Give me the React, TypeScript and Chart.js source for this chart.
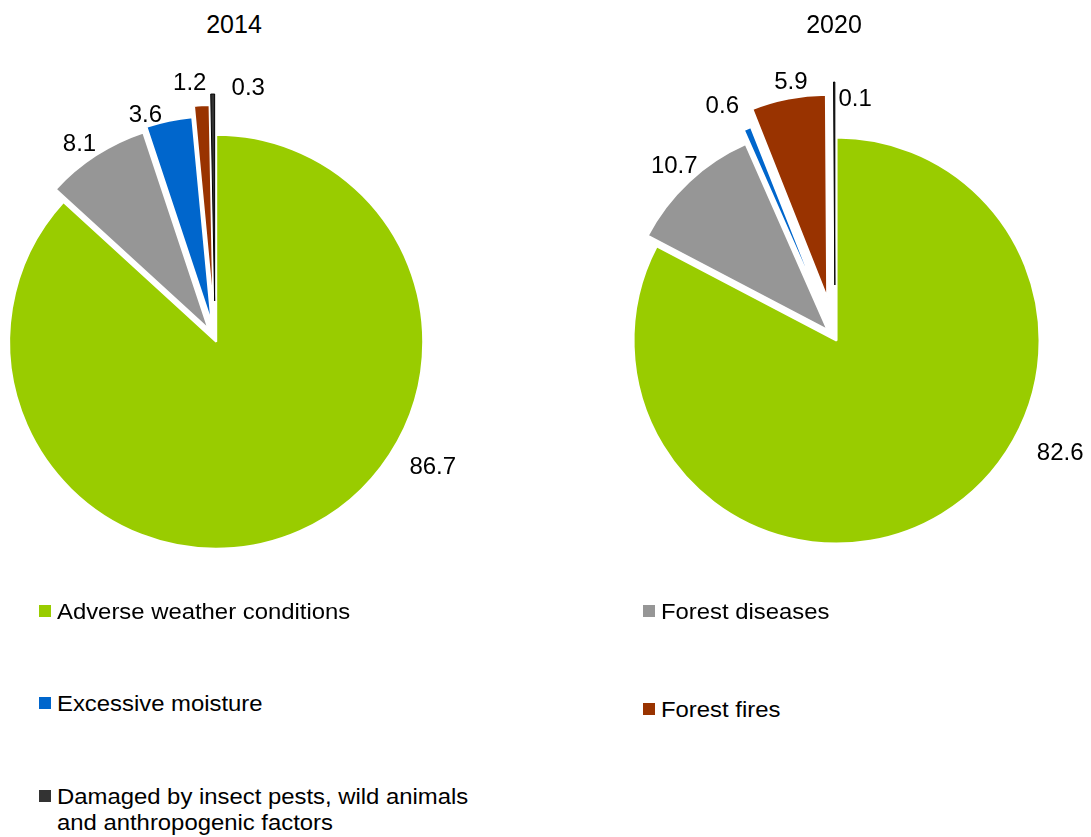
import React, { useEffect, useRef } from "react";
import { Chart, PieController, ArcElement } from "chart.js";

Chart.register(PieController, ArcElement);

// Categories of forest damage, in slice / legend order
const CATEGORIES = [
  "Adverse weather conditions",
  "Forest diseases",
  "Excessive moisture",
  "Forest fires",
  "Damaged by insect pests, wild animals and anthropogenic factors",
];

const YEARS = ["2014", "2020"];

// Share of damaged forest area by cause, %
const SHARES_2014 = [86.7, 8.1, 3.6, 1.2, 0.3];
const SHARES_2020 = [82.6, 10.7, 0.6, 5.9, 0.1];

const SLICE_COLORS = ["#99CC00", "#969696", "#0066CC", "#993300", "#333333"];
const BORDER_COLORS = ["#ffffff", "#ffffff", "#ffffff", "#ffffff", "#000000"];
const BORDER_WIDTHS = [2, 2, 2, 2, 1];

const FONT = '"Liberation Sans", Arial, Helvetica, sans-serif';

type PieLayout = {
  year: string;
  values: number[];
  cx: number;
  cy: number;
  radius: number;
  titleX: number;
  explode: number[]; // px each slice is pulled out along its mid-angle
  labelNudge: number[]; // degrees, clockwise, relative to the slice mid-angle
  labelGap: number[]; // px beyond the outer radius
};

const PIES: PieLayout[] = [
  {
    year: YEARS[0],
    values: SHARES_2014,
    cx: 215,
    cy: 339,
    radius: 207,
    titleX: 234,
    explode: [3, 12, 16, 27, 38],
    labelNudge: [-35.6, -1.9, -5.4, -2.4, 8.1],
    labelGap: [46, 30, 27, 50, 46],
  },
  {
    year: YEARS[1],
    values: SHARES_2020,
    cx: 835,
    cy: 338,
    radius: 203,
    titleX: 834,
    explode: [3, 11, 24, 41, 53],
    labelNudge: [-31.7, -0.1, -3.2, 1.2, 5.0],
    labelGap: [50, 32, 55, 56, 36],
  },
];

// Legend: square left edge per column, text cap-centre per entry
const LEGEND_COL_X = [39, 643];
const LEGEND_Y = [612, 612, 704, 710, 797];

const CANVAS_SIZE = 600;

// Moves each arc's centre outwards along its mid-angle (exploded pie)
function explodePlugin(offsets: number[]) {
  return {
    id: "explodeSlices",
    afterDatasetUpdate(_chart: any, args: any) {
      args.meta.data.forEach((arc: any, i: number) => {
        const d = offsets[i] || 0;
        const mid = (arc.startAngle + arc.endAngle) / 2;
        arc.x += Math.cos(mid) * d;
        arc.y += Math.sin(mid) * d;
      });
    },
  };
}

// Writes each slice's value outside the pie
function valueLabelPlugin(nudge: number[], gap: number[]) {
  return {
    id: "valueLabels",
    afterDatasetsDraw(chart: any) {
      const { ctx, chartArea } = chart;
      const cx = (chartArea.left + chartArea.right) / 2;
      const cy = (chartArea.top + chartArea.bottom) / 2;
      const meta = chart.getDatasetMeta(0);
      const values: number[] = chart.data.datasets[0].data;
      ctx.save();
      ctx.font = `24px ${FONT}`;
      ctx.fillStyle = "#000000";
      ctx.textAlign = "center";
      ctx.textBaseline = "middle";
      meta.data.forEach((arc: any, i: number) => {
        const a = (arc.startAngle + arc.endAngle) / 2 + (nudge[i] * Math.PI) / 180;
        const r = arc.outerRadius + gap[i];
        ctx.fillText(values[i].toFixed(1), cx + Math.cos(a) * r, cy + Math.sin(a) * r);
      });
      ctx.restore();
    },
  };
}

function PieChart({ spec }: { spec: PieLayout }) {
  const ref = useRef<HTMLCanvasElement>(null);

  useEffect(() => {
    const chart = new Chart(ref.current as HTMLCanvasElement, {
      type: "pie",
      data: {
        labels: CATEGORIES,
        datasets: [
          {
            data: spec.values,
            backgroundColor: SLICE_COLORS,
            borderColor: BORDER_COLORS,
            borderWidth: BORDER_WIDTHS,
          },
        ],
      },
      options: {
        responsive: false,
        animation: false,
        radius: spec.radius,
        layout: { padding: 0 },
        events: [],
        plugins: {
          legend: { display: false },
          tooltip: { enabled: false },
        },
      } as any,
      plugins: [explodePlugin(spec.explode), valueLabelPlugin(spec.labelNudge, spec.labelGap)],
    });
    return () => chart.destroy();
  }, [spec]);

  return (
    <canvas
      ref={ref}
      width={CANVAS_SIZE}
      height={CANVAS_SIZE}
      style={{
        position: "absolute",
        left: spec.cx - CANVAS_SIZE / 2,
        top: spec.cy - CANVAS_SIZE / 2,
      }}
    />
  );
}

export default function App() {
  return (
    <div
      style={{
        position: "fixed",
        left: 0,
        top: 0,
        width: 1091,
        height: 837,
        overflow: "hidden",
        background: "#ffffff",
      }}
    >
      {PIES.map((p) => (
        <PieChart key={p.year} spec={p} />
      ))}

      {PIES.map((p) => (
        <div
          key={"t" + p.year}
          style={{
            position: "absolute",
            left: p.titleX - 100,
            top: 9,
            width: 200,
            textAlign: "center",
            font: `25px/30px ${FONT}`,
            color: "#000000",
          }}
        >
          {p.year}
        </div>
      ))}

      {CATEGORIES.map((name, i) => {
        const x = LEGEND_COL_X[i % 2];
        const y = LEGEND_Y[i];
        return (
          <React.Fragment key={name}>
            <div
              style={{
                position: "absolute",
                left: x,
                top: y - 7,
                width: 12,
                height: 12,
                background: SLICE_COLORS[i],
              }}
            />
            <div
              style={{
                position: "absolute",
                left: x + 18,
                top: y - 13,
                width: 390,
                font: `21.5px/26px ${FONT}`,
                color: "#000000",
                transform: "scaleX(1.11)",
                transformOrigin: "left top",
              }}
            >
              {name}
            </div>
          </React.Fragment>
        );
      })}
    </div>
  );
}
